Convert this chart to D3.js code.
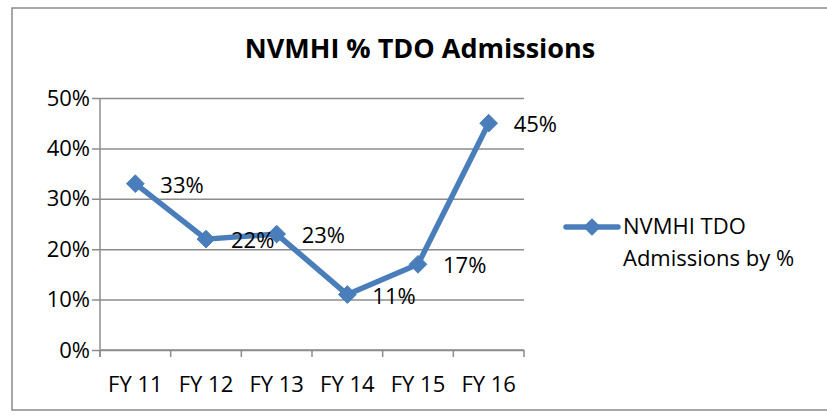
<!DOCTYPE html>
<html>
<head>
<meta charset="utf-8">
<script src="https://d3js.org/d3.v7.min.js"></script>
<style>
  html, body { margin: 0; padding: 0; background: #fff; }
  svg { display: block; font-family: "Open Sans", "Liberation Sans", sans-serif; }
</style>
</head>
<body>
<svg id="viz" width="827" height="417"></svg>
<script>
// --- data ---
const categories = ["FY 11", "FY 12", "FY 13", "FY 14", "FY 15", "FY 16"];
const values = [0.33, 0.22, 0.23, 0.11, 0.17, 0.45];
const yTicks = [0, 0.1, 0.2, 0.3, 0.4, 0.5];
const seriesName = ["NVMHI TDO", "Admissions by %"];
const title = "NVMHI % TDO Admissions";

const W = 827, H = 417;
const color = "#4A7EBB";
const gridColor = "#8c8c8c";
const fs = 22;

const svg = d3.select("#viz");

// outer frame
svg.append("rect")
  .attr("x", 12).attr("y", 8)
  .attr("width", W - 10).attr("height", 402)
  .attr("fill", "#fff")
  .attr("stroke", "#8a8a8a")
  .attr("stroke-width", 1.5);

// title
svg.append("text")
  .attr("x", 420).attr("y", 58)
  .attr("text-anchor", "middle")
  .attr("font-weight", "bold")
  .attr("font-size", 27)
  .text(title);

// plot area
const plot = { left: 100, right: 524, top: 98, bottom: 350 };

const x = d3.scaleBand()
  .domain(categories)
  .range([plot.left, plot.right]);

const y = d3.scaleLinear()
  .domain([0, 0.5])
  .range([plot.bottom, plot.top]);

// gridlines + y axis
const yAxis = d3.axisLeft(y)
  .tickValues(yTicks)
  .tickFormat(d3.format(".0%"))
  .tickSize(-(plot.right - plot.left + 8))
  .tickPadding(10);

const gy = svg.append("g")
  .attr("transform", `translate(${plot.left},0)`)
  .call(yAxis);
gy.select(".domain").remove();
gy.selectAll(".tick line")
  .attr("x1", -8)
  .attr("x2", plot.right - plot.left)
  .attr("stroke", gridColor)
  .attr("stroke-width", 1.5);
gy.selectAll(".tick text")
  .attr("font-size", fs)
  .attr("fill", "#000")
  .attr("font-family", "Open Sans, sans-serif");

// y axis line
svg.append("line")
  .attr("x1", plot.left).attr("x2", plot.left)
  .attr("y1", plot.top).attr("y2", plot.bottom + 7)
  .attr("stroke", gridColor).attr("stroke-width", 1.5);

// x axis
const xAxis = d3.axisBottom(x)
  .tickSize(0)
  .tickPadding(26);
const gx = svg.append("g")
  .attr("transform", `translate(0,${plot.bottom})`)
  .call(xAxis);
gx.select(".domain").remove();
gx.selectAll(".tick text")
  .attr("font-size", fs)
  .attr("fill", "#000")
  .attr("font-family", "Open Sans, sans-serif");

// x tick marks at band edges
const edges = categories.map(c => x(c)).concat([x.range()[1]]);
svg.append("g").selectAll("line")
  .data(edges)
  .enter().append("line")
  .attr("x1", d => d).attr("x2", d => d)
  .attr("y1", plot.bottom).attr("y2", plot.bottom + 7)
  .attr("stroke", gridColor).attr("stroke-width", 1.5);

svg.append("line")
  .attr("x1", plot.left).attr("x2", plot.right)
  .attr("y1", plot.bottom).attr("y2", plot.bottom)
  .attr("stroke", gridColor).attr("stroke-width", 1.5);

// series line
const cx = (d, i) => x(categories[i]) + x.bandwidth() / 2;
const line = d3.line()
  .x((d, i) => cx(d, i))
  .y(d => y(d));

svg.append("path")
  .datum(values)
  .attr("d", line)
  .attr("fill", "none")
  .attr("stroke", color)
  .attr("stroke-width", 5.5)
  .attr("stroke-linejoin", "round")
  .attr("stroke-linecap", "round");

const diamond = d3.symbol().type(d3.symbolDiamond2).size(200);

svg.append("g").selectAll("path")
  .data(values)
  .enter().append("path")
  .attr("d", diamond)
  .attr("transform", (d, i) => `translate(${cx(d, i)},${y(d)})`)
  .attr("fill", color)
  .attr("stroke", color)
  .attr("stroke-width", 1);

// data labels
svg.append("g").selectAll("text")
  .data(values)
  .enter().append("text")
  .attr("x", (d, i) => cx(d, i) + 25)
  .attr("y", d => y(d) + 9)
  .attr("font-size", fs)
  .text(d => d3.format(".0%")(d));

// legend
const lg = svg.append("g");
lg.append("line")
  .attr("x1", 566).attr("x2", 618)
  .attr("y1", 227).attr("y2", 227)
  .attr("stroke", color).attr("stroke-width", 5.5)
  .attr("stroke-linecap", "round");
lg.append("path")
  .attr("d", diamond)
  .attr("transform", "translate(592,227)")
  .attr("fill", color);
lg.selectAll("text")
  .data(seriesName)
  .enter().append("text")
  .attr("x", 623)
  .attr("y", (d, i) => 234 + i * 32)
  .attr("font-size", fs)
  .text(d => d);
</script>
</body>
</html>
